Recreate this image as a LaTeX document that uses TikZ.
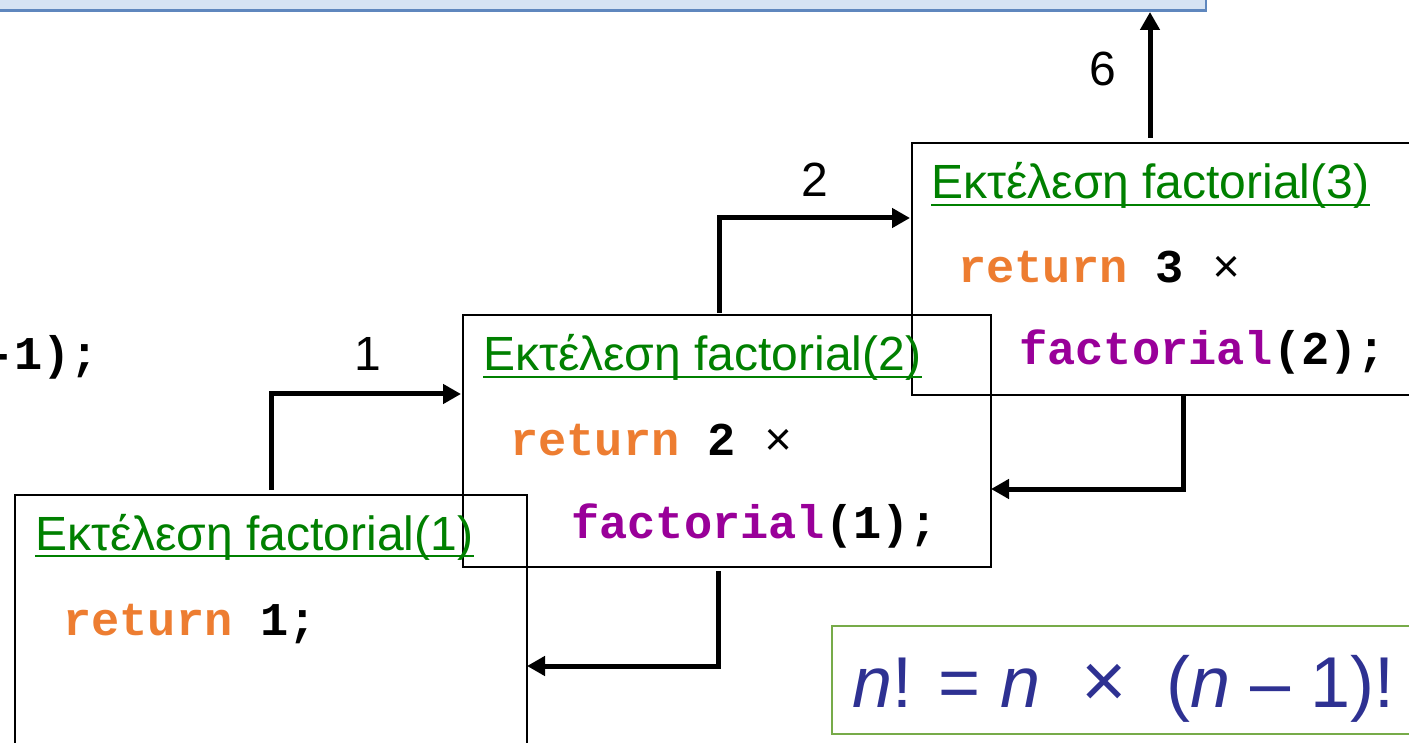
\documentclass[tikz,border=0pt]{standalone}
\usepackage{fontspec}
\setmainfont{Liberation Sans}
\newfontfamily\codefont{Liberation Mono}
\usetikzlibrary{arrows.meta}
\definecolor{ttlgreen}{RGB}{0,128,0}
\definecolor{kworange}{RGB}{237,125,49}
\definecolor{fnpurple}{RGB}{153,0,153}
\definecolor{formblue}{RGB}{46,49,146}
\definecolor{formgreen}{RGB}{119,171,73}
\definecolor{topfill}{RGB}{214,227,243}
\definecolor{topdraw}{RGB}{95,135,190}
\begin{document}
\begin{tikzpicture}[x=1pt,y=-1pt,
  frame/.style={draw=black, line width=1.6pt, inner sep=0pt, anchor=north west},
  ttl/.style={inner sep=0pt, anchor=base west, text=ttlgreen, font=\fontsize{48}{56}\selectfont},
  code/.style={inner sep=0pt, anchor=base west, font=\codefont\bfseries\fontsize{47}{56}\selectfont},
  lbl/.style={inner sep=0pt, anchor=base west, font=\fontsize{48}{56}\selectfont},
  arr/.style={line width=5pt, -{Triangle[length=18pt,width=19pt]}},
  ret/.style={line width=5pt, {Triangle[length=18pt,width=19pt]}-},
  uline/.style={draw=ttlgreen, line width=2.5pt}]
\useasboundingbox (0,0) rectangle (1409,743);

% top box (cut off)
\node[fill=topfill, draw=topdraw, line width=2.5pt, inner sep=0pt, anchor=south east,
      minimum width=1240pt, minimum height=40pt] (top) at (1207,12) {};

% frames
\node[frame, minimum width=512pt, minimum height=280pt] (b1) at (14,494) {};
\node[frame, minimum width=528pt, minimum height=252pt] (b2) at (462,314) {};
\node[frame, minimum width=520pt, minimum height=252pt] (b3) at (911,142) {};
\node[draw=formgreen, line width=2pt, inner sep=0pt, anchor=north west,
      minimum width=600pt, minimum height=108pt] (fb) at (831,625) {};

% cut text at left
\node[code] (cut) at (-14,370) {-1);};

% box 3
\node[ttl] (t3) at (931,199) {Εκτέλεση factorial(3)};
\draw[uline] ([yshift=-6pt]t3.base west) -- ([yshift=-6pt]t3.base east);
\node[code] (r3) at (958,283) {\textcolor{kworange}{return} 3 {\mdseries ×}};
\node[code] (f3) at (1019,365) {\textcolor{fnpurple}{factorial}(2);};

% box 2
\node[ttl] (t2) at (483,371) {Εκτέλεση factorial(2)};
\draw[uline] ([yshift=-6pt]t2.base west) -- ([yshift=-6pt]t2.base east);
\node[code] (r2) at (510,455) {\textcolor{kworange}{return} 2 {\mdseries ×}};
\node[code] (f2) at (571,538) {\textcolor{fnpurple}{factorial}(1);};

% box 1
\node[ttl] (t1) at (35,550) {Εκτέλεση factorial(1)};
\draw[uline] ([yshift=-6pt]t1.base west) -- ([yshift=-6pt]t1.base east);
\node[code] (r1) at (63,635) {\textcolor{kworange}{return} 1;};

% formula
\node[inner sep=0pt, anchor=base west, text=formblue, font=\fontsize{72}{80}\selectfont]
  (fm) at (852,707) {\textit{n}! = \textit{n}\ \ \scalebox{1.08}{×}\ \ (\textit{n} – 1)!};

% labels
\node[lbl] (n1) at (354,371) {1};
\node[lbl] (n2) at (801,197) {2};
\node[lbl] (n6) at (1089,86) {6};

% call arrows
\coordinate (s1) at (271,490);
\coordinate (e1) at (461,394);
\draw[arr] (s1) |- (e1);
\coordinate (s2) at (719,313);
\coordinate (e2) at (910,218);
\draw[arr] (s2) |- (e2);
\coordinate (s6) at (1150,138);
\coordinate (e6) at (1150,12);
\draw[arr] (s6) -- (e6);

% return arrows
\coordinate (q3) at (1183,395);
\coordinate (p3) at (991,489);
\draw[ret] (p3) -| (q3);
\coordinate (q2) at (718,571);
\coordinate (p2) at (527,666);
\draw[ret] (p2) -| (q2);
\end{tikzpicture}
\end{document}
